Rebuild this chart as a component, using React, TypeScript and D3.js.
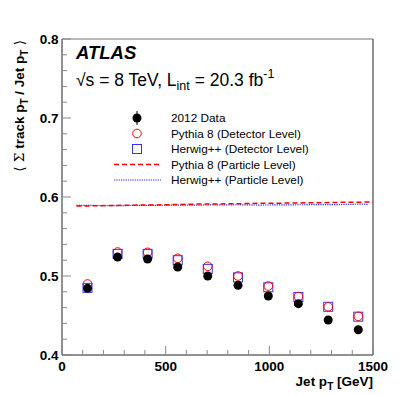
import React from "react";
import * as d3 from "d3";

// jet pT bin centres [GeV]
const jetPt = [123, 268, 413, 558, 703, 849, 995, 1140, 1284, 1429];
const data2012 = [0.4844, 0.524, 0.5215, 0.5114, 0.5, 0.4882, 0.4747, 0.465, 0.4443, 0.432];
const pythiaDet = [0.4899, 0.5304, 0.53, 0.5224, 0.5123, 0.5, 0.4873, 0.474, 0.461, 0.449];
const herwigDet = [0.485, 0.528, 0.528, 0.52, 0.509, 0.4983, 0.4857, 0.4734, 0.461, 0.4485];

// particle level curves
const pythiaPartPt = [70, 150, 250, 350, 450, 550, 650, 750, 850, 950, 1050, 1150, 1250, 1350, 1450, 1500];
const pythiaPart = [0.5885, 0.5888, 0.5893, 0.5897, 0.59, 0.5905, 0.591, 0.5912, 0.5915, 0.592, 0.5922, 0.5925, 0.5928, 0.5932, 0.5935, 0.5937];
const herwigPartPt = [70, 150, 250, 350, 450, 550, 650, 750, 850, 950, 1050, 1150, 1250, 1350, 1450, 1475];
const herwigPart = [0.5895, 0.5893, 0.589, 0.5893, 0.5895, 0.5897, 0.5898, 0.59, 0.5902, 0.5898, 0.59, 0.5902, 0.5903, 0.5905, 0.591, 0.5905];

const xTicks = [0, 500, 1000, 1500];
const yTicks = [0.4, 0.5, 0.6, 0.7, 0.8];
const legendLabels = [
  "2012 Data",
  "Pythia 8 (Detector Level)",
  "Herwig++ (Detector Level)",
  "Pythia 8 (Particle Level)",
  "Herwig++ (Particle Level)",
];

const W = 415, H = 395;
const L = 62, R = 373, T = 39, B = 355;
const font = "Liberation Sans, Arial, sans-serif";

export default function App() {
  const x = d3.scaleLinear().domain([0, 1500]).range([L, R]);
  const y = d3.scaleLinear().domain([0.4, 0.8]).range([B, T]);

  const line = d3.line<[number, number]>().x(d => x(d[0])).y(d => y(d[1]));
  const pyLine = line(pythiaPartPt.map((p, i) => [p, pythiaPart[i]]));
  const hwLine = line(herwigPartPt.map((p, i) => [p, herwigPart[i]]));

  const xMinor = d3.range(0, 1501, 100);
  const yMinor = d3.range(0.4, 0.8001, 0.02);

  const legY = [118, 133.5, 149, 164.5, 180];
  const legX = 137;

  return (
    <svg width={W} height={H} style={{ position: "absolute", left: 0, top: 0, background: "#fff" }} fontFamily={font}>
      {/* frame */}
      <line x1={L} x2={R} y1={T} y2={T} stroke="#777" />
      <line x1={R} x2={R} y1={T} y2={B} stroke="#222" />
      <line x1={L} x2={L} y1={T} y2={B} stroke="#222" />
      <line x1={L} x2={R} y1={B} y2={B} stroke="#222" />

      {/* ticks */}
      {xMinor.map(v => {
        const major = v % 500 === 0;
        return <line key={"xt" + v} x1={x(v)} x2={x(v)} y1={B} y2={B - (major ? 9 : 5)} stroke="#888" />;
      })}
      {yMinor.map((v, i) => {
        const major = i % 5 === 0;
        return <line key={"yt" + i} x1={L} x2={L + (major ? 9 : 5)} y1={y(v)} y2={y(v)} stroke="#888" />;
      })}

      {/* tick labels */}
      {yTicks.map(v => (
        <text key={"yl" + v} x={58.5} y={y(v) + 4.8} textAnchor="end" fontSize={13.5} fontWeight="bold">
          {v.toFixed(1)}
        </text>
      ))}
      {xTicks.map(v => (
        <text key={"xl" + v} x={x(v)} y={370.5} textAnchor="middle" fontSize={13.5} fontWeight="bold">
          {v}
        </text>
      ))}

      {/* axis titles */}
      <text x={R} y={386} textAnchor="end" fontSize={13.5} fontWeight="bold">
        Jet p<tspan dy={3.5} fontSize={10}>T</tspan><tspan dy={-3.5}> [GeV]</tspan>
      </text>
      <text transform="translate(24,40) rotate(-90)" textAnchor="end" fontSize={13.5} fontWeight="bold">
        <tspan fontWeight="normal" fontFamily="DejaVu Serif, serif">{"\u27E8 \u03A3"}</tspan>
        <tspan> track p</tspan>
        <tspan dy={4} fontSize={10}>T</tspan>
        <tspan dy={-4}> / Jet p</tspan>
        <tspan dy={4} fontSize={10}>T</tspan>
        <tspan dy={-4} fontWeight="normal" fontFamily="DejaVu Serif, serif">{" \u27E9"}</tspan>
      </text>

      {/* labels */}
      <text x={76} y={58.5} fontSize={18.5} fontWeight="bold" fontStyle="italic">ATLAS</text>
      <text x={76} y={85.5} fontSize={17.5}>
        {"\u221As = 8 TeV, L"}
        <tspan dy={4.5} fontSize={12.5}>int</tspan>
        <tspan dy={-4.5}>{" = 20.3 fb"}</tspan>
        <tspan dy={-7.5} fontSize={12.5}>-1</tspan>
      </text>

      {/* legend */}
      <line x1={legX} x2={legX} y1={legY[0] - 7} y2={legY[0] + 7} stroke="#000" />
      <circle cx={legX} cy={legY[0]} r={4.5} fill="#000" />
      <circle cx={legX} cy={legY[1]} r={4.3} fill="none" stroke="#f00" />
      <rect x={legX - 4.5} y={legY[2] - 4.5} width={9} height={9} fill="none" stroke="#33f" />
      <line x1={114} x2={161} y1={legY[3]} y2={legY[3]} stroke="#f00" strokeWidth={1.5} strokeDasharray="5,3" />
      <line x1={114} x2={161} y1={legY[4]} y2={legY[4]} stroke="#33f" strokeWidth={1.2} strokeDasharray="1.3,1" />
      {legendLabels.map((t, i) => (
        <text key={t} x={171} y={legY[i] + 4.2} fontSize={11.8}>{t}</text>
      ))}

      {/* particle level curves */}
      <path d={hwLine ?? ""} fill="none" stroke="#33f" strokeWidth={1.2} strokeDasharray="1.3,1" />
      <path d={pyLine ?? ""} fill="none" stroke="#f00" strokeWidth={1.5} strokeDasharray="5,3" />

      {/* detector level + data */}
      {jetPt.map((p, i) => (
        <rect key={"hw" + i} x={x(p) - 4.5} y={y(herwigDet[i]) - 4.5} width={9} height={9} fill="none" stroke="#33f" />
      ))}
      {jetPt.map((p, i) => (
        <circle key={"py" + i} cx={x(p)} cy={y(pythiaDet[i])} r={4.3} fill="none" stroke="#f00" />
      ))}
      {jetPt.map((p, i) => (
        <circle key={"d" + i} cx={x(p)} cy={y(data2012[i])} r={4.5} fill="#000" />
      ))}
    </svg>
  );
}
